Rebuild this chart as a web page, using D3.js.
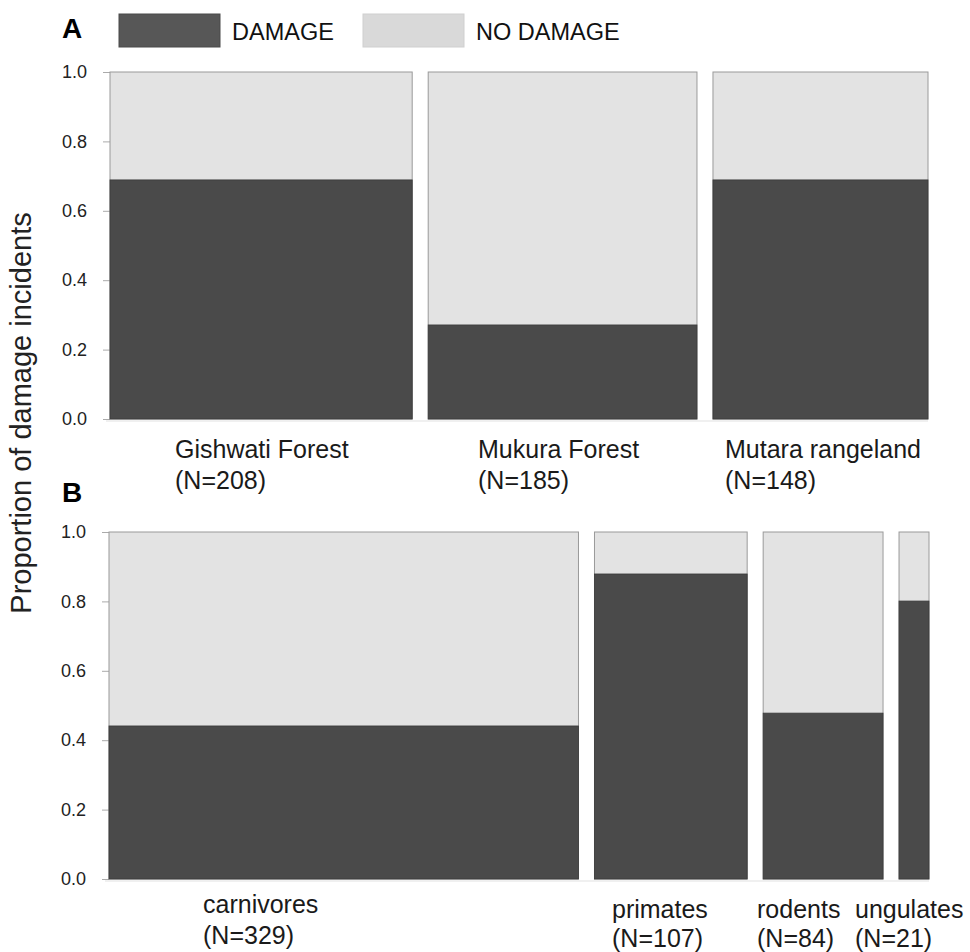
<!DOCTYPE html>
<html><head><meta charset="utf-8">
<script src="https://cdn.jsdelivr.net/npm/d3@7"></script>
<style>
body{margin:0;background:#fff;}
svg{display:block;}
.cat{font-family:"Liberation Sans",Arial,sans-serif;font-size:25px;fill:#1a1a1a;}
.leg{font-family:"Liberation Sans",Arial,sans-serif;font-size:23.5px;fill:#111;}
</style></head>
<body><svg id="c" width="970" height="952"></svg>
<script>
// Panel A: regions
const regions = ["Gishwati Forest", "Mukura Forest", "Mutara rangeland"];
const regionN = [208, 185, 148];
const regionDamage = [0.689, 0.271, 0.689];
// Panel B: animal groups
const groups = ["carnivores", "primates", "rodents", "ungulates"];
const groupN = [329, 107, 84, 21];
const groupDamage = [0.441, 0.879, 0.478, 0.801];
const yTicks = [0, 0.2, 0.4, 0.6, 0.8, 1.0];
const legendLabels = ["DAMAGE", "NO DAMAGE"];

const DARK = "#4a4a4a", LIGHT = "#e3e3e3";
const svg = d3.select("#c");

function panel(cfg){
  const {names, ns, dmg, x0, x1, yTop, yBot, gap, labels} = cfg;
  const total = d3.sum(ns);
  const gapsW = gap*(names.length-1);
  const xs = d3.scaleLinear().domain([0,total]).range([x0, x1-gapsW]);
  const y = d3.scaleLinear().domain([0,1]).range([yBot,yTop]);
  const cum = [0]; ns.forEach((n,i)=>cum.push(cum[i]+n));
  const g = svg.append("g");
  // faint baseline
  g.append("line").attr("x1",x0-4).attr("x2",x1).attr("y1",yBot+2).attr("y2",yBot+2)
    .attr("stroke","#f0f0f0").attr("stroke-width",2);
  const axis = d3.axisLeft(y).tickValues(yTicks).tickFormat(d3.format(".1f")).tickSize(7).tickPadding(16);
  const ag = g.append("g").attr("transform",`translate(${x0},0)`).call(axis)
    .attr("font-size",18).attr("font-family","Liberation Sans, Arial, sans-serif");
  ag.select(".domain").remove();
  ag.selectAll(".tick line").attr("stroke","#aaa");
  ag.selectAll(".tick text").attr("fill","#222");
  names.forEach((nm,i)=>{
    const bx = xs(cum[i]) + gap*i, bw = xs(cum[i+1]) - xs(cum[i]);
    g.append("rect").attr("x",bx).attr("y",y(1)).attr("width",bw).attr("height",y(0)-y(1))
      .attr("fill",LIGHT).attr("stroke","#9a9a9a").attr("stroke-width",1);
    g.append("rect").attr("x",bx).attr("y",y(dmg[i])).attr("width",bw).attr("height",y(0)-y(dmg[i]))
      .attr("fill",DARK).attr("stroke","#3a3a3a").attr("stroke-width",0.8);
    const L = labels[i];
    g.append("text").attr("class","cat").attr("x",L[0]).attr("y",L[1]).text(nm);
    g.append("text").attr("class","cat").attr("x",L[0]).attr("y",L[2]).text(`(N=${ns[i]})`);
  });
}

panel({names:regions, ns:regionN, dmg:regionDamage, x0:110, x1:928, yTop:72, yBot:419, gap:16,
  labels:[[175,458,489],[478,458,489],[725,458,489]]});
panel({names:groups, ns:groupN, dmg:groupDamage, x0:109, x1:929, yTop:532, yBot:879, gap:16,
  labels:[[203,913,944],[612,918,947],[757,918,947],[855,918,947]]});

// panel letters
svg.append("text").attr("x",62).attr("y",38).attr("font-family","Liberation Sans, Arial, sans-serif")
  .attr("font-weight","bold").attr("font-size",28).attr("fill","#000").text("A");
svg.append("text").attr("x",62).attr("y",502).attr("font-family","Liberation Sans, Arial, sans-serif")
  .attr("font-weight","bold").attr("font-size",28).attr("fill","#000").text("B");

// legend
const legColors = ["#575757","#d9d9d9"];
const legX = [119, 363];
legendLabels.forEach((t,i)=>{
  svg.append("rect").attr("x",legX[i]).attr("y",14).attr("width",101).attr("height",33)
    .attr("fill",legColors[i]).attr("stroke", i?"#cfcfcf":"#4a4a4a").attr("stroke-width",1);
  svg.append("text").attr("class","leg").attr("x",legX[i]+113).attr("y",40).text(t);
});

// y title
svg.append("text").attr("transform","translate(31,413) rotate(-90)").attr("text-anchor","middle")
  .attr("font-family","Liberation Sans, Arial, sans-serif").attr("font-size",29).attr("fill","#222")
  .text("Proportion of damage incidents");
</script></body></html>
